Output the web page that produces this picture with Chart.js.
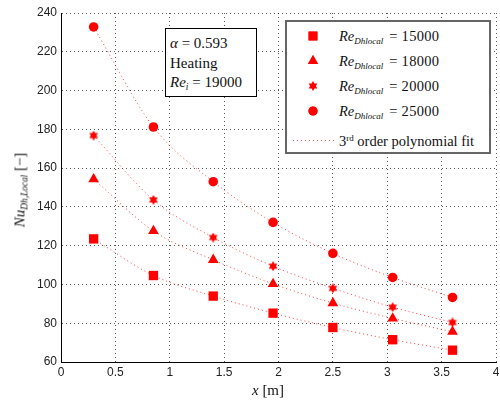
<!DOCTYPE html>
<html>
<head>
<meta charset="utf-8">
<script src="https://cdn.jsdelivr.net/npm/chart.js@4.4.0/dist/chart.umd.min.js"></script>
<style>
  body { margin: 0; background: #fff; }
  #wrap { position: relative; width: 500px; height: 404px; }
  #plot { position: absolute; left: 0; top: 0; }
  .tex { position: absolute; white-space: nowrap; font-family: "Liberation Serif", "DejaVu Serif", serif; color: #111; line-height: 1; }
  .tex i { font-style: italic; }
  .tex sub { font-size: 62%; vertical-align: -0.3em; line-height: 0; }
  .tex sup { font-size: 62%; vertical-align: 0.55em; line-height: 0; }
  #note { left: 165px; top: 28px; width: 92px; height: 69px; border: 1px solid #000; background: #fff; box-sizing: border-box; font-size: 15px; }
  #note div { position: absolute; left: 4px; }
  #legend { left: 285px; top: 20px; width: 206px; height: 134px; border: 2px solid #666; background: #fff; box-sizing: border-box; font-size: 14.5px; }
  #legend .row { position: absolute; left: 0; height: 20px; }
  #legend canvas { position: absolute; }
  #legend .lbl { position: absolute; left: 52px; top: 3px; }
  #legend .lbl .eq { margin-left: 2px; letter-spacing: 0.3px; }
  #ytitle { left: 20px; top: 190px; font-size: 15px; transform: translate(-50%, -50%) rotate(-90deg); }
  #xtitle { left: 268px; top: 390px; font-size: 15px; transform: translate(-50%, -50%); }
</style>
</head>
<body>
<div id="wrap">
  <canvas id="plot" width="500" height="404"></canvas>
  <div id="note" class="tex">
    <div style="top:7px"><i>α</i> = 0.593</div>
    <div style="top:27px">Heating</div>
    <div style="top:46px"><i>Re<sub>i</sub></i> = 19000</div>
  </div>
  <div id="legend" class="tex"></div>
  <div id="ytitle" class="tex"><i>Nu<sub>Dh,Local</sub></i> [−]</div>
  <div id="xtitle" class="tex"><i>x</i> [m]</div>
</div>
<script>
// measurement stations along the pipe [m]
const xPos = [0.3, 0.85, 1.4, 1.95, 2.5, 3.05, 3.6];

// local Nusselt number for each local Reynolds number
const nu15000 = [123.5, 104.6, 94.0, 85.2, 77.8, 71.5, 66.1];
const nu18000 = [154.3, 127.6, 112.7, 100.3, 90.4, 82.5, 75.6];
const nu20000 = [176.8, 143.6, 124.2, 109.4, 98.0, 88.3, 80.4];
const nu25000 = [232.8, 181.2, 153.0, 132.0, 116.0, 103.6, 93.3];

const reLabels = ['15000', '18000', '20000', '25000'];

// axis ticks
const xTicks = [0, 0.5, 1, 1.5, 2, 2.5, 3, 3.5, 4];
const yTicks = [60, 80, 100, 120, 140, 160, 180, 200, 220, 240];

const RED = '#ff0000';
const FIT = 'rgba(255,0,0,0.75)';

// six-pointed star marker (MATLAB 'hexagram')
function hexagram(size) {
  const c = document.createElement('canvas');
  c.width = size; c.height = size;
  const g = c.getContext('2d');
  const cx = size / 2, cy = size / 2, ro = size / 2, ri = ro / Math.sqrt(3);
  g.beginPath();
  for (let i = 0; i < 12; i++) {
    const r = i % 2 ? ri : ro;
    const a = -Math.PI / 2 + i * Math.PI / 6;
    g.lineTo(cx + r * Math.cos(a), cy + r * Math.sin(a));
  }
  g.closePath();
  g.fillStyle = RED;
  g.fill();
  return c;
}
const starMarker = hexagram(10);

const markers = [
  { style: 'rect', radius: 6.6 },
  { style: 'triangle', radius: 6.2 },
  { style: starMarker, radius: 5 },
  { style: 'circle', radius: 4.8 }
];
const series = [nu15000, nu18000, nu20000, nu25000];

const toPts = ys => xPos.map((x, i) => ({ x: x, y: ys[i] }));

const datasets = [];
series.forEach((ys, k) => {
  datasets.push({
    label: 'Re ' + reLabels[k],
    data: toPts(ys),
    showLine: false,
    pointStyle: markers[k].style,
    pointRadius: markers[k].radius,
    pointBackgroundColor: RED,
    pointBorderColor: RED,
    pointBorderWidth: 0,
    order: 0
  });
  datasets.push({
    label: 'fit ' + reLabels[k],
    data: toPts(ys),
    showLine: true,
    tension: 0.4,
    cubicInterpolationMode: 'monotone',
    borderColor: FIT,
    borderWidth: 1,
    borderDash: [1, 3],
    pointRadius: 0,
    order: 1
  });
});

const gridStyle = {
  color: 'rgba(0,0,0,0.65)',
  lineWidth: 1,
  drawTicks: false
};
const tickFont = { family: 'Liberation Sans, Arial', size: 12 };

new Chart(document.getElementById('plot'), {
  type: 'scatter',
  data: { datasets: datasets },
  options: {
    responsive: false,
    animation: false,
    layout: { autoPadding: false, padding: { top: 13, right: 4, left: 0, bottom: 0 } },
    plugins: { legend: { display: false }, tooltip: { enabled: false } },
    scales: {
      x: {
        type: 'linear',
        min: 0, max: 4,
        afterBuildTicks: s => { s.ticks = xTicks.map(v => ({ value: v })); },
        afterFit: s => { s.height = 42; },
        grid: gridStyle,
        border: { display: true, color: '#000', width: 1, dash: [1, 3] },
        // tall line height pushes the labels down without side padding
        ticks: { color: '#222', padding: 0, font: { ...tickFont, lineHeight: 1.85 }, callback: v => String(v) }
      },
      y: {
        type: 'linear',
        min: 60, max: 240,
        afterBuildTicks: s => { s.ticks = yTicks.map(v => ({ value: v })); },
        afterFit: s => { s.width = 61; },
        grid: gridStyle,
        border: { display: true, color: '#000', width: 1, dash: [1, 3] },
        ticks: { color: '#222', padding: 4, font: tickFont, callback: v => String(v) }
      }
    }
  },
  plugins: [{
    // solid axis lines on the left and bottom, dotted grid elsewhere
    id: 'axisLines',
    afterDraw(chart) {
      const { ctx, chartArea: a } = chart;
      ctx.save();
      ctx.strokeStyle = '#000';
      ctx.lineWidth = 1;
      ctx.setLineDash([]);
      ctx.beginPath();
      ctx.moveTo(Math.round(a.left) + 0.5, a.top);
      ctx.lineTo(Math.round(a.left) + 0.5, Math.round(a.bottom) + 0.5);
      ctx.lineTo(a.right, Math.round(a.bottom) + 0.5);
      ctx.stroke();
      ctx.restore();
    }
  }]
});

// legend built from the same marker definitions
const legend = document.getElementById('legend');
const rowY = [4, 29, 54, 79];
reLabels.forEach((re, k) => {
  const row = document.createElement('div');
  row.className = 'row';
  row.style.top = rowY[k] + 'px';
  const c = document.createElement('canvas');
  c.width = 16; c.height = 16;
  c.style.left = '18px'; c.style.top = '2px';
  const g = c.getContext('2d');
  g.fillStyle = RED; g.strokeStyle = RED;
  Chart.helpers.drawPoint(g, { pointStyle: markers[k].style, radius: markers[k].radius * 0.95, borderWidth: 0 }, 8, 8);
  g.fill();
  row.appendChild(c);
  const t = document.createElement('div');
  t.className = 'lbl';
  t.innerHTML = '<i>Re<sub>Dhlocal</sub></i><span class="eq"> = ' + re + '</span>';
  row.appendChild(t);
  legend.appendChild(row);
});
const fitRow = document.createElement('div');
fitRow.className = 'row';
fitRow.style.top = '109px';
const fc = document.createElement('canvas');
fc.width = 44; fc.height = 4;
fc.style.left = '6px'; fc.style.top = '7px';
const fg = fc.getContext('2d');
fg.strokeStyle = FIT; fg.lineWidth = 1; fg.setLineDash([1, 3]);
fg.beginPath(); fg.moveTo(0, 2.5); fg.lineTo(44, 2.5); fg.stroke();
fitRow.appendChild(fc);
const ft = document.createElement('div');
ft.className = 'lbl';
ft.style.left = '52px';
ft.innerHTML = '3<sup>rd</sup> order polynomial fit';
fitRow.appendChild(ft);
legend.appendChild(fitRow);
</script>
</body>
</html>
